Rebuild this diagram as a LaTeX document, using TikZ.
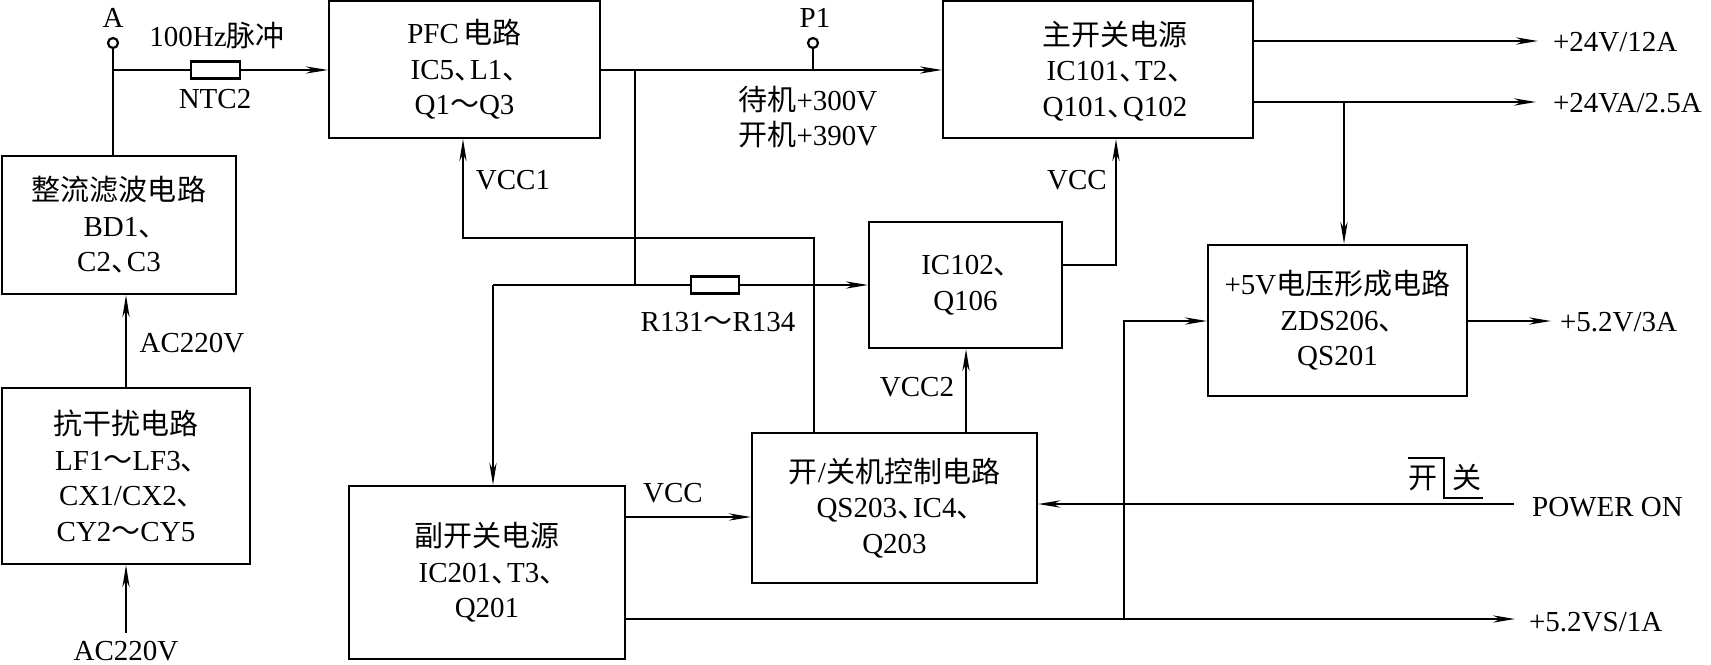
\documentclass[tikz,border=0pt]{standalone}
\usepackage{fontspec}
\setmainfont{Liberation Serif}
\newfontfamily\cjk{Noto Sans CJK SC}
\newcommand\zh[1]{{\cjk #1}}
\newcommand\dn{\makebox[0.55em][l]{\cjk 、}}
\usetikzlibrary{arrows.meta}
\begin{document}
\begin{tikzpicture}[x=0.5pt,y=-0.5pt,line width=1.1pt,
  font=\fontsize{14.5}{17.75}\selectfont,
  box/.style={draw, inner sep=0pt, align=center},
  res/.style={draw, fill=white, inner sep=0pt, minimum width=24.5pt, minimum height=8.5pt},
  term/.style={circle, draw, fill=white, inner sep=0pt, minimum size=5pt},
  lbl/.style={inner sep=0pt, align=center},
  arr/.style={-{Stealth[length=11pt,width=3.6pt,inset=3.5pt]}}
]
\useasboundingbox (0,0) rectangle (1711,664);
% boxes
\node[box, minimum width=135.5pt, minimum height=68.5pt] (pfc) at (464.5,69.5) {PFC\,\zh{电路}\\IC5\dn L1\dn\\Q1\zh{～}Q3};
\node[box, minimum width=117pt, minimum height=69pt] (rect) at (119,225) {\zh{整流滤波电路}\\BD1\dn\\C2\dn C3};
\node[box, minimum width=124pt, minimum height=88pt] (emi) at (126,476) {\zh{抗干扰电路}\\LF1\zh{～}LF3\dn\\CX1/CX2\dn\\CY2\zh{～}CY5};
\node[box, minimum width=155pt, minimum height=68.5pt] (main) at (1098,69.5) {};
\node[lbl] (maint) at (1115,71) {\zh{主开关电源}\\IC101\dn T2\dn\\Q101\dn Q102};
\node[box, minimum width=96.5pt, minimum height=63pt] (ic) at (965.5,285) {IC102\dn\\Q106};
\node[box, minimum width=129.5pt, minimum height=75.5pt] (v5) at (1337.5,320.5) {+5V\zh{电压形成电路}\\ZDS206\dn\\QS201};
\node[box, minimum width=138pt, minimum height=86.5pt] (sub) at (487,572.5) {\zh{副开关电源}\\IC201\dn T3\dn\\Q201};
\node[box, minimum width=142.5pt, minimum height=75pt] (ctrl) at (894.5,508) {\zh{开}/\zh{关机控制电路}\\QS203\dn IC4\dn\\Q203};
% terminals
\node[term] (Ac) at (113,43) {};
\node[lbl] (Al) at (113,18) {A};
\node[term] (Pc) at (813,43) {};
\node[lbl] (Pl) at (815,18) {P1};
% resistors
\node[res] (ntc) at (215.5,70) {};
\node[res, minimum width=24pt] (rr) at (715,285) {};
% labels
\node[lbl] (hz) at (217,36) {100Hz\zh{脉冲}};
\node[lbl] (ntcl) at (215,99) {NTC2};
\node[lbl] (volt) at (808,117) {\zh{待机}+300V\\\zh{开机}+390V};
\node[lbl] (vcc1l) at (513,180) {VCC1};
\node[lbl] (vccl) at (1077,180) {VCC};
\node[lbl] (rrl) at (718,322) {R131\zh{～}R134};
\node[lbl] (vcc2l) at (917,387) {VCC2};
\node[lbl] (vccsl) at (673,493) {VCC};
\node[lbl] (acm) at (192,343) {AC220V};
\node[lbl] (acb) at (126,651) {AC220V};
\node[lbl, anchor=west] (o1l) at (1552,42) {+24V/12A};
\node[lbl, anchor=west] (o2l) at (1552,103) {+24VA/2.5A};
\node[lbl, anchor=west] (o3l) at (1559,322) {+5.2V/3A};
\node[lbl, anchor=west] (pwl) at (1531,507) {POWER ON};
\node[lbl, anchor=west] (o5l) at (1528,622) {+5.2VS/1A};
\node[lbl] (kk) at (1423,478) {\zh{开}};
\node[lbl] (gg) at (1467,478) {\zh{关}};
% coordinates
\coordinate (jA) at (113,70);
\coordinate (jP) at (635,70);
\coordinate (jR) at (635,285);
\coordinate (rl) at (493,285);
\coordinate (v1a) at (814,238);
\coordinate (v1b) at (463,238);
\coordinate (v2) at (966,433);
\coordinate (vm) at (1116,265);
\coordinate (o1) at (1538,41);
\coordinate (o2) at (1536,102);
\coordinate (j24) at (1344,102);
\coordinate (o3) at (1551,321);
\coordinate (j5) at (1124,321);
\coordinate (j5b) at (1124,619);
\coordinate (o5) at (1515,619);
\coordinate (vs) at (700,517);
\coordinate (pw) at (1514,504);
\coordinate (acbt) at (126,633);
% connectors
\draw (Ac.south) -- (Ac.south |- rect.north);
\draw (jA) -- (ntc.west);
\draw[arr] (ntc.east) -- (ntc.east -| pfc.west);
\draw[arr] (emi.north) -- (emi.north |- rect.south);
\draw[arr] (acbt) -- (acbt |- emi.south);
\draw[arr] (jP -| pfc.east) -- (jP -| main.west);
\draw (Pc.south) -- (Pc.south |- jP);
\draw (jP) -- (jR);
\draw (rl) -- (rr.west);
\draw[arr] (rr.east) -- (rr.east -| ic.west);
\draw[arr] (rl) -- (rl |- sub.north);
\draw[arr] (v1a |- ctrl.north) -- (v1a) -- (v1b) -- (v1b |- pfc.south);
\draw[arr] (v2 |- ctrl.north) -- (v2 |- ic.south);
\draw[arr] (vm -| ic.east) -- (vm) -- (vm |- main.south);
\draw[arr] (o1 -| main.east) -- (o1);
\draw[arr] (o2 -| main.east) -- (o2);
\draw[arr] (j24) -- (j24 |- v5.north);
\draw[arr] (o3 -| v5.east) -- (o3);
\draw[arr] (j5b) -- (j5) -- (j5 -| v5.west);
\draw[arr] (o5 -| sub.east) -- (o5);
\draw[arr] (vs -| sub.east) -- (vs -| ctrl.west);
\draw[arr] (pw) -- (pw -| ctrl.east);
\draw[line width=0.9pt] (1408,458) -- (1444,458) -- (1444,498) -- (1483,498);
\end{tikzpicture}
\end{document}
